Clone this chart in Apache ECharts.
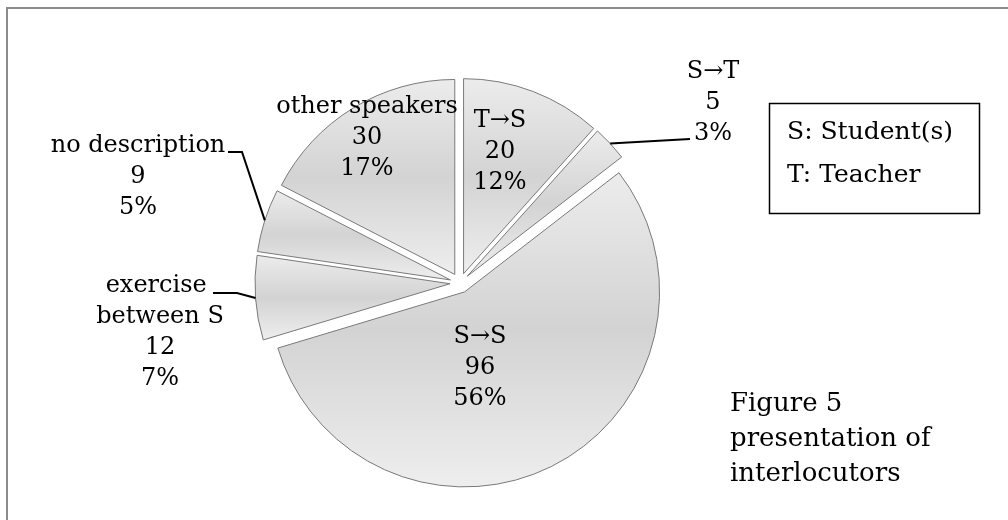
<!DOCTYPE html>
<html><head><meta charset="utf-8">
<script src="https://cdn.jsdelivr.net/npm/echarts@6/dist/echarts.min.js"></script>
<style>html,body{margin:0;padding:0;background:#fff}#c{width:1008px;height:520px}</style>
</head><body><div id="c"></div>
<script>
// ---- data ----
const categories = ['T→S', 'S→T', 'S→S', 'exercise between S', 'no description', 'other speakers'];
const values = [20, 5, 96, 12, 9, 30];
const legendLines = ['S: Student(s)', 'T: Teacher'];
const captionLines = ['Figure 5', 'presentation of', 'interlocutors'];

// ---- styling / layout ----
const FONT = 'DejaVu Serif';
const FS = 24;
const LH = 31;
const CX = 460, CY = 283, R = 195, EXPLODE = 10;
function grad() {
  return new echarts.graphic.LinearGradient(0, 0, 0, 1, [
    { offset: 0, color: '#ececec' },
    { offset: 0.5, color: '#d3d3d3' },
    { offset: 1, color: '#eeeeee' }
  ]);
}
const outsideIdx = [1, 3, 4];
// label block centres
const labelPos = { 0: [500, 152], 1: [713, 103], 2: [480, 368], 3: [160, 332], 4: [138, 177], 5: [367, 138] };
// leader-line elbows (after the point on the slice)
const leaderRest = { 1: [[690, 139]], 3: [[237, 293], [213, 293]], 4: [[242, 152], [228, 152]] };

const chart = echarts.init(document.getElementById('c'), null, { renderer: 'canvas' });

// exploded slices (no labels)
const sliceData = categories.map((name, i) => ({ name: name, value: values[i], selected: true }));

// label carrier (transparent slices, not exploded)
const labelData = categories.map((name, i) => {
  const isOut = outsideIdx.indexOf(i) >= 0;
  const item = {
    name: name,
    value: values[i],
    label: { position: isOut ? 'outside' : 'inside' },
    labelLine: { show: isOut }
  };
  if (i === 3) { item.label.width = 150; item.label.overflow = 'break'; }
  return item;
});

const option = {
  animation: false,
  backgroundColor: '#ffffff',
  title: {
    text: captionLines.join('\n'),
    left: 725,
    top: 382,
    textStyle: { fontFamily: FONT, fontSize: 26, fontWeight: 'normal', color: '#000', lineHeight: 35 }
  },
  graphic: [
    { type: 'rect', shape: { x: 7, y: 8, width: 1010, height: 520 }, style: { fill: null, stroke: '#8c8c8c', lineWidth: 2 }, z: 100, silent: true },
    { type: 'rect', shape: { x: 769.5, y: 103.5, width: 210, height: 110 }, style: { fill: '#fff', stroke: '#000', lineWidth: 1.5 }, z: 10 },
    { type: 'text', left: 787, top: 120, z: 11, style: { text: legendLines[0], font: '25px "' + FONT + '"', fill: '#000' } },
    { type: 'text', left: 787, top: 163, z: 11, style: { text: legendLines[1], font: '25px "' + FONT + '"', fill: '#000' } }
  ],
  series: [{
    type: 'pie',
    center: [CX, CY],
    radius: R,
    startAngle: 90,
    clockwise: true,
    selectedMode: 'multiple',
    selectedOffset: EXPLODE,
    avoidLabelOverlap: false,
    silent: true,
    itemStyle: { color: grad(), borderColor: '#7a7a7a', borderWidth: 1 },
    select: { itemStyle: { color: grad(), borderColor: '#7a7a7a', borderWidth: 1 } },
    emphasis: { disabled: true },
    label: { show: false },
    labelLine: { show: false },
    data: sliceData
  }, {
    type: 'pie',
    center: [CX, CY],
    radius: R,
    startAngle: 90,
    clockwise: true,
    selectedMode: false,
    percentPrecision: 0,
    avoidLabelOverlap: false,
    silent: true,
    z: 5,
    itemStyle: { color: 'rgba(0,0,0,0)', borderWidth: 0 },
    emphasis: { disabled: true },
    label: {
      show: true,
      formatter: '{b}\n{c}\n{d}%',
      fontFamily: FONT,
      fontSize: FS,
      lineHeight: LH,
      color: '#000',
      align: 'center'
    },
    labelLine: { lineStyle: { color: '#000', width: 2 }, length: 10, length2: 10 },
    labelLayout: function (p) {
      const pos = labelPos[p.dataIndex];
      const res = { x: pos[0], y: pos[1], align: 'center', verticalAlign: 'middle' };
      const rest = leaderRest[p.dataIndex];
      if (rest && p.labelLinePoints) {
        const p0 = p.labelLinePoints[0];
        const k = (R + EXPLODE) / R;
        const start = [CX + (p0[0] - CX) * k, CY + (p0[1] - CY) * k];
        res.labelLinePoints = [start].concat(rest);
      }
      return res;
    },
    data: labelData
  }]
};
chart.setOption(option);
</script>
</body></html>
